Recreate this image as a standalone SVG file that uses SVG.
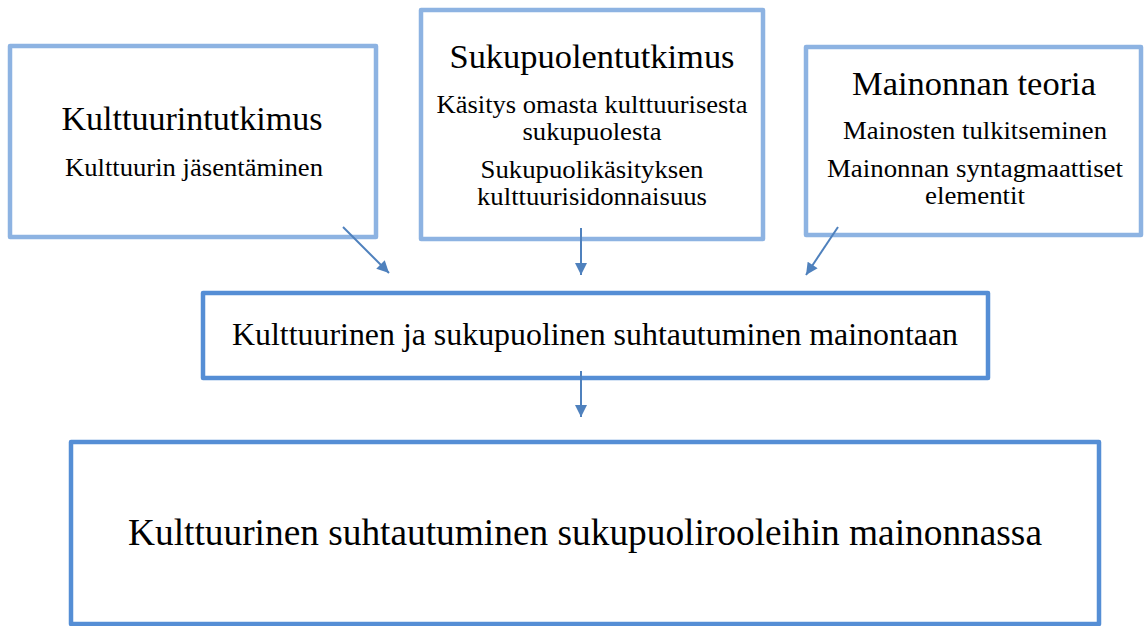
<svg xmlns="http://www.w3.org/2000/svg" width="1144" height="626" viewBox="0 0 1144 626">
<style>
.light{fill:#fff;stroke:#8DB3E2;stroke-width:4.5;stroke-linejoin:round}
.dark{fill:#fff;stroke:#558ED5;stroke-width:4.5;stroke-linejoin:round}
text{fill:#000;text-anchor:middle}
.t{font-size:33px}
.s{font-size:25px}
.m{font-size:32px}
.b{font-size:37px}
.c{stroke:#4F81BD;stroke-width:2;fill:none;marker-end:url(#ah)}
</style>
<defs>
<marker id="ah" viewBox="0 0 10 10" refX="10" refY="5" markerUnits="userSpaceOnUse" markerWidth="13" markerHeight="12" orient="auto">
<path d="M0,0 L10,5 L0,10 z" fill="#4F81BD"/>
</marker>
</defs>
<rect width="1144" height="626" fill="#fff"/>
<g font-family="'Liberation Serif', 'Times New Roman', serif">
<g id="kulttuurintutkimus">
<rect class="light" x="10" y="46" width="366" height="191"/>
<text class="t" x="192" y="130" textLength="261" lengthAdjust="spacingAndGlyphs">Kulttuurintutkimus</text>
<text class="s" x="194" y="176" textLength="258" lengthAdjust="spacingAndGlyphs">Kulttuurin jäsentäminen</text>
</g>
<g id="sukupuolentutkimus">
<rect class="light" x="421" y="10" width="342" height="229"/>
<text class="t" x="592" y="68" textLength="285" lengthAdjust="spacingAndGlyphs">Sukupuolentutkimus</text>
<text class="s" x="592" y="113" textLength="311" lengthAdjust="spacingAndGlyphs">Käsitys omasta kulttuurisesta</text>
<text class="s" x="592" y="140" textLength="139" lengthAdjust="spacingAndGlyphs">sukupuolesta</text>
<text class="s" x="592" y="178" textLength="223" lengthAdjust="spacingAndGlyphs">Sukupuolikäsityksen</text>
<text class="s" x="592" y="205" textLength="230" lengthAdjust="spacingAndGlyphs">kulttuurisidonnaisuus</text>
</g>
<g id="mainonnan-teoria">
<rect class="light" x="806" y="47" width="335" height="188"/>
<text class="t" x="974" y="95" textLength="244" lengthAdjust="spacingAndGlyphs">Mainonnan teoria</text>
<text class="s" x="975" y="139" textLength="264" lengthAdjust="spacingAndGlyphs">Mainosten tulkitseminen</text>
<text class="s" x="975" y="177" textLength="296" lengthAdjust="spacingAndGlyphs">Mainonnan syntagmaattiset</text>
<text class="s" x="975" y="204" textLength="100" lengthAdjust="spacingAndGlyphs">elementit</text>
</g>
<g id="suhtautuminen-mainontaan">
<rect class="dark" x="203" y="293" width="785" height="85"/>
<text class="m" x="595" y="345" textLength="726" lengthAdjust="spacingAndGlyphs">Kulttuurinen ja sukupuolinen suhtautuminen mainontaan</text>
</g>
<g id="sukupuoliroolit">
<rect class="dark" x="71" y="442" width="1028" height="182"/>
<text class="b" x="585" y="545" textLength="914" lengthAdjust="spacingAndGlyphs">Kulttuurinen suhtautuminen sukupuolirooleihin mainonnassa</text>
</g>
</g>
<g id="connectors">
<line class="c" x1="343" y1="227" x2="389" y2="273"/>
<line class="c" x1="581" y1="228" x2="581" y2="275"/>
<line class="c" x1="838" y1="227" x2="806" y2="275"/>
<line class="c" x1="581" y1="371" x2="581" y2="417"/>
</g>
</svg>
